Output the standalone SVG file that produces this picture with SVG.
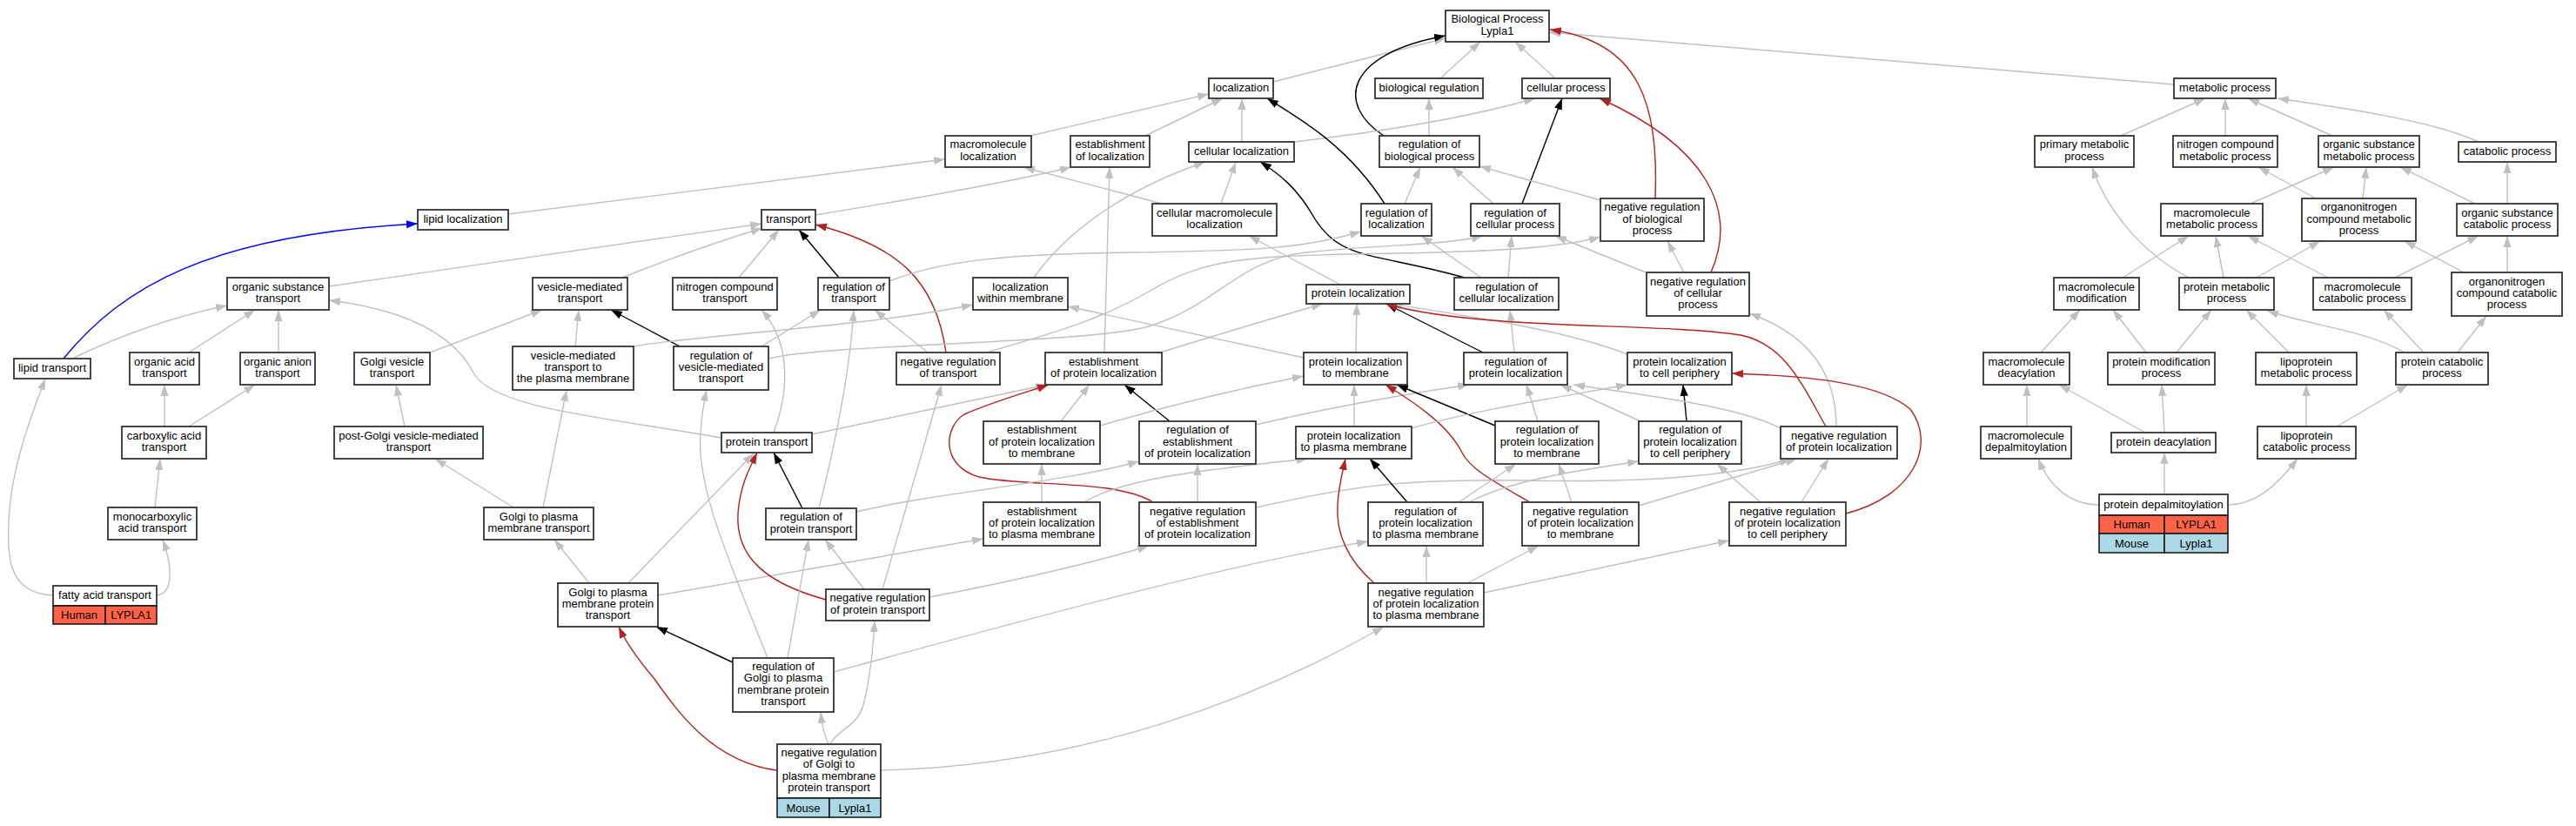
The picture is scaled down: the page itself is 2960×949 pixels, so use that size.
<svg xmlns="http://www.w3.org/2000/svg" width="2960" height="949" viewBox="0 0 2960 949">
<style>
text{font-family:"Liberation Sans",Arial,sans-serif;font-size:13px;text-anchor:middle;fill:#000}
.n rect{fill:#fff;stroke:#333;stroke-width:1.8}
.n rect.hu{fill:#ff6347;stroke:#111;stroke-width:1.5}
.n rect.mo{fill:#add8e6;stroke:#111;stroke-width:1.5}
.e path{fill:none;stroke-width:1.4}
.e .g{stroke:#c0c0c0;marker-end:url(#ag)}
.e .k{stroke:#000;marker-end:url(#ak)}
.e .r{stroke:#b22222;marker-end:url(#ar)}
.e .b{stroke:#0000ff;marker-end:url(#ab)}
</style>
<defs>
<marker id="ag" markerUnits="userSpaceOnUse" markerWidth="14" markerHeight="10" refX="13" refY="4.6" orient="auto"><path d="M0,0 L13,4.6 L0,9.2 z" fill="#c0c0c0"/></marker>
<marker id="ak" markerUnits="userSpaceOnUse" markerWidth="14" markerHeight="10" refX="13" refY="4.6" orient="auto"><path d="M0,0 L13,4.6 L0,9.2 z" fill="#000"/></marker>
<marker id="ar" markerUnits="userSpaceOnUse" markerWidth="14" markerHeight="10" refX="13" refY="4.6" orient="auto"><path d="M0,0 L13,4.6 L0,9.2 z" fill="#b22222"/></marker>
<marker id="ab" markerUnits="userSpaceOnUse" markerWidth="14" markerHeight="10" refX="13" refY="4.6" orient="auto"><path d="M0,0 L13,4.6 L0,9.2 z" fill="#0000ff"/></marker>
</defs>
<rect width="2960" height="949" fill="#fff"/>
<g id="edges" class="e">
<path class="g" d="M1463,94 L1661,44"/>
<path class="g" d="M1655,90 L1701,48"/>
<path class="g" d="M1787,90 L1741,48"/>
<path class="g" d="M2498,97 L1780,37"/>
<path class="k" d="M1590,156 C1535,120 1545,62 1661,41"/>
<path class="r" d="M1902,228 C1906,120 1885,48 1781,34"/>
<path class="r" d="M1966,313 C1998,240 1960,168 1838,113"/>
<path class="k" d="M1749,234 L1795,113"/>
<path class="g" d="M1642,156 L1642,113"/>
<path class="g" d="M1487,163 Q1660,143 1764,113"/>
<path class="k" d="M1591,234 C1550,170 1500,140 1456,113"/>
<path class="g" d="M1614,234 L1632,192"/>
<path class="g" d="M1716,234 L1669,192"/>
<path class="g" d="M1839,230 L1700,191"/>
<path class="g" d="M1702,319 L1633,271"/>
<path class="g" d="M1733,319 L1737,271"/>
<path class="k" d="M1683,319 C1580,290 1540,300 1510,250 C1490,215 1470,200 1448,186"/>
<path class="g" d="M1891,313 L1787,271"/>
<path class="g" d="M1935,313 L1916,277"/>
<path class="g" d="M1184,156 L1389,108"/>
<path class="g" d="M1316,156 L1405,113"/>
<path class="g" d="M1427,163 L1427,113"/>
<path class="g" d="M584,246 L1086,183"/>
<path class="g" d="M937,247 Q1150,212 1231,192"/>
<path class="g" d="M1335,234 L1176,192"/>
<path class="g" d="M1403,234 L1420,186"/>
<path class="g" d="M1188,319 C1230,260 1300,215 1385,186"/>
<path class="g" d="M1269,405 L1275,192"/>
<path class="g" d="M1540,327 L1435,271"/>
<path class="g" d="M378,329 L875,257"/>
<path class="g" d="M715,319 Q800,285 876,262"/>
<path class="g" d="M849,319 L895,264"/>
<path class="k" d="M964,319 L918,264"/>
<path class="r" d="M1087,405 C1075,320 1030,282 937,258"/>
<path class="g" d="M83,412 Q170,370 261,351"/>
<path class="g" d="M217,405 L293,356"/>
<path class="g" d="M320,405 L320,356"/>
<path class="b" d="M73,412 C140,330 240,270 480,257"/>
<path class="g" d="M829,503 C700,480 570,470 545,430 C520,380 460,355 378,345"/>
<path class="g" d="M494,405 L623,356"/>
<path class="g" d="M661,398 L665,356"/>
<path class="k" d="M781,398 L702,356"/>
<path class="g" d="M727,398 C800,385 1000,375 1118,350"/>
<path class="g" d="M875,398 L943,356"/>
<path class="g" d="M883,412 C950,395 1250,395 1320,375 C1400,350 1420,300 1500,290 C1600,280 1660,282 1704,271"/>
<path class="g" d="M1134,405 C1200,385 1260,370 1320,335 C1380,300 1420,295 1550,292 C1700,290 1790,286 1839,272"/>
<path class="g" d="M1022,323 C1080,300 1150,292 1300,290 C1450,288 1500,285 1564,266"/>
<path class="g" d="M1066,405 L1005,356"/>
<path class="g" d="M941,584 Q975,450 981,356"/>
<path class="g" d="M1014,677 L1082,442"/>
<path class="g" d="M889,497 C910,440 905,390 875,356"/>
<path class="g" d="M933,499 L1203,442"/>
<path class="g" d="M1219,484 L1252,442"/>
<path class="k" d="M1344,484 L1292,442"/>
<path class="r" d="M1325,577 C1280,550 1180,560 1125,548 C1080,535 1085,490 1108,476 C1140,462 1175,452 1205,442"/>
<path class="g" d="M1264,489 Q1380,455 1498,432"/>
<path class="g" d="M1333,405 Q1430,375 1520,349"/>
<path class="g" d="M1498,411 L1227,352"/>
<path class="g" d="M1443,488 C1520,470 1600,455 1688,442"/>
<path class="g" d="M1197,577 L1197,533"/>
<path class="g" d="M1246,577 C1290,550 1380,540 1503,527"/>
<path class="g" d="M1376,577 L1376,533"/>
<path class="g" d="M1443,583 C1550,560 1600,550 1750,552 C1900,555 2000,545 2058,527"/>
<path class="g" d="M756,684 L1130,619"/>
<path class="k" d="M922,584 L889,520"/>
<path class="g" d="M984,588 C1080,565 1220,555 1309,530"/>
<path class="r" d="M949,689 C880,670 845,640 848,590 C850,560 860,540 870,520"/>
<path class="g" d="M993,677 L948,620"/>
<path class="g" d="M1068,686 C1180,665 1280,640 1320,627"/>
<path class="g" d="M677,670 L637,620"/>
<path class="g" d="M722,670 L866,521"/>
<path class="g" d="M590,583 L500,527"/>
<path class="g" d="M624,583 L651,448"/>
<path class="g" d="M465,490 L455,442"/>
<path class="g" d="M189,490 L189,442"/>
<path class="g" d="M217,490 L293,442"/>
<path class="g" d="M178,583 L184,527"/>
<path class="g" d="M180,684 C200,682 198,650 187,620"/>
<path class="g" d="M61,684 C10,682 8,640 10,600 C12,540 35,480 52,435"/>
<path class="r" d="M892,885 C820,875 780,820 752,780 C735,760 720,740 711,720"/>
<path class="k" d="M842,761 L754,720"/>
<path class="g" d="M905,756 L929,620"/>
<path class="g" d="M882,756 C840,650 800,560 805,500 C806,480 808,465 812,448"/>
<path class="g" d="M958,772 C1150,720 1400,650 1572,622"/>
<path class="g" d="M952,855 Q945,840 943,818"/>
<path class="g" d="M954,855 C960,840 985,835 992,810 C1000,780 1003,750 1005,713"/>
<path class="g" d="M1012,885 C1250,880 1450,800 1590,720"/>
<path class="g" d="M1558,405 L1559,349"/>
<path class="k" d="M1704,405 L1593,349"/>
<path class="g" d="M1740,405 L1735,356"/>
<path class="g" d="M1870,407 C1800,380 1700,365 1598,349"/>
<path class="r" d="M2098,490 C2070,440 2050,395 2000,385 C1900,370 1700,380 1592,349"/>
<path class="g" d="M2110,490 C2110,430 2080,385 2010,360"/>
<path class="k" d="M1938,484 L1934,442"/>
<path class="r" d="M2121,590 C2200,570 2225,510 2195,470 C2160,440 2080,432 1990,429"/>
<path class="g" d="M1885,484 L1793,442"/>
<path class="g" d="M2046,492 C2000,468 1900,455 1808,442"/>
<path class="g" d="M1767,484 L1754,442"/>
<path class="k" d="M1718,489 L1605,442"/>
<path class="r" d="M1758,577 C1720,555 1690,540 1680,520 C1665,490 1630,465 1592,442"/>
<path class="g" d="M1556,490 L1556,442"/>
<path class="g" d="M1622,492 C1700,470 1800,455 1870,442"/>
<path class="k" d="M1617,577 L1574,527"/>
<path class="g" d="M1676,577 L1742,533"/>
<path class="g" d="M1688,577 C1740,550 1820,540 1883,530"/>
<path class="r" d="M1579,670 C1545,640 1535,610 1537,580 C1538,560 1542,545 1546,527"/>
<path class="g" d="M1639,670 L1639,627"/>
<path class="g" d="M1686,670 L1768,627"/>
<path class="g" d="M1705,681 L1987,621"/>
<path class="g" d="M1806,577 L1791,533"/>
<path class="g" d="M1883,581 L2065,527"/>
<path class="g" d="M2023,577 L1973,533"/>
<path class="g" d="M2070,577 L2101,527"/>
<path class="g" d="M2437,156 L2534,113"/>
<path class="g" d="M2557,156 L2557,113"/>
<path class="g" d="M2680,156 L2583,113"/>
<path class="g" d="M2848,163 C2800,140 2700,125 2617,113"/>
<path class="g" d="M2586,234 L2682,192"/>
<path class="g" d="M2661,228 L2595,192"/>
<path class="g" d="M2715,228 L2719,192"/>
<path class="g" d="M2844,234 L2758,192"/>
<path class="g" d="M2881,234 L2881,186"/>
<path class="g" d="M2439,319 L2515,271"/>
<path class="g" d="M2515,319 C2460,290 2420,240 2404,192"/>
<path class="g" d="M2555,319 L2546,271"/>
<path class="g" d="M2593,319 L2666,277"/>
<path class="g" d="M2675,319 L2583,271"/>
<path class="g" d="M2752,319 L2848,271"/>
<path class="g" d="M2831,313 L2763,277"/>
<path class="g" d="M2881,313 L2881,271"/>
<path class="g" d="M2345,405 L2390,356"/>
<path class="g" d="M2466,405 L2428,356"/>
<path class="g" d="M2501,405 L2541,356"/>
<path class="g" d="M2630,405 L2581,356"/>
<path class="g" d="M2763,405 C2720,380 2660,375 2605,357"/>
<path class="g" d="M2785,405 L2739,356"/>
<path class="g" d="M2824,405 L2857,363"/>
<path class="g" d="M2329,490 L2329,442"/>
<path class="g" d="M2465,497 L2366,442"/>
<path class="g" d="M2487,497 L2484,442"/>
<path class="g" d="M2650,490 L2650,442"/>
<path class="g" d="M2685,490 L2767,442"/>
<path class="g" d="M2412,580 C2380,580 2355,560 2342,527"/>
<path class="g" d="M2487,568 L2487,520"/>
<path class="g" d="M2560,580 C2590,580 2615,560 2640,527"/>
</g>
<g id="n_bp" class="n"><rect x="1661" y="12" width="119" height="36"/><text x="1720.5" y="26.3">Biological Process</text><text x="1720.5" y="39.7">Lypla1</text></g>
<g id="n_loc" class="n"><rect x="1389" y="90" width="74" height="23"/><text x="1426" y="104.5">localization</text></g>
<g id="n_bioreg" class="n"><rect x="1580" y="90" width="124" height="23"/><text x="1642" y="104.5">biological regulation</text></g>
<g id="n_cellproc" class="n"><rect x="1749" y="90" width="101" height="23"/><text x="1799.5" y="104.5">cellular process</text></g>
<g id="n_metab" class="n"><rect x="2498" y="90" width="117" height="23"/><text x="2556.5" y="104.5">metabolic process</text></g>
<g id="n_macloc" class="n"><rect x="1086" y="156" width="99" height="36"/><text x="1135.5" y="170.3">macromolecule</text><text x="1135.5" y="183.7">localization</text></g>
<g id="n_estloc" class="n"><rect x="1230" y="156" width="91" height="36"/><text x="1275.5" y="170.3">establishment</text><text x="1275.5" y="183.7">of localization</text></g>
<g id="n_cellloc" class="n"><rect x="1366" y="163" width="121" height="23"/><text x="1426.5" y="177.5">cellular localization</text></g>
<g id="n_regbp" class="n"><rect x="1585" y="156" width="115" height="36"/><text x="1642.5" y="170.3">regulation of</text><text x="1642.5" y="183.7">biological process</text></g>
<g id="n_primmet" class="n"><rect x="2338" y="156" width="114" height="36"/><text x="2395" y="170.3">primary metabolic</text><text x="2395" y="183.7">process</text></g>
<g id="n_nitmet" class="n"><rect x="2497" y="156" width="120" height="36"/><text x="2557" y="170.3">nitrogen compound</text><text x="2557" y="183.7">metabolic process</text></g>
<g id="n_orgsubmet" class="n"><rect x="2664" y="156" width="116" height="36"/><text x="2722" y="170.3">organic substance</text><text x="2722" y="183.7">metabolic process</text></g>
<g id="n_catab" class="n"><rect x="2825" y="163" width="112" height="23"/><text x="2881" y="177.5">catabolic process</text></g>
<g id="n_lipidloc" class="n"><rect x="480" y="241" width="104" height="23"/><text x="532" y="255.5">lipid localization</text></g>
<g id="n_transport" class="n"><rect x="875" y="241" width="62" height="23"/><text x="906" y="255.5">transport</text></g>
<g id="n_cellmacloc" class="n"><rect x="1324" y="234" width="143" height="37"/><text x="1395.5" y="248.8">cellular macromolecule</text><text x="1395.5" y="262.2">localization</text></g>
<g id="n_regloc" class="n"><rect x="1564" y="234" width="81" height="37"/><text x="1604.5" y="248.8">regulation of</text><text x="1604.5" y="262.2">localization</text></g>
<g id="n_regcp" class="n"><rect x="1690" y="234" width="102" height="37"/><text x="1741" y="248.8">regulation of</text><text x="1741" y="262.2">cellular process</text></g>
<g id="n_negregbp" class="n"><rect x="1839" y="228" width="119" height="49"/><text x="1898.5" y="242.1">negative regulation</text><text x="1898.5" y="255.5">of biological</text><text x="1898.5" y="268.9">process</text></g>
<g id="n_macmet" class="n"><rect x="2483" y="234" width="117" height="37"/><text x="2541.5" y="248.8">macromolecule</text><text x="2541.5" y="262.2">metabolic process</text></g>
<g id="n_orgnitmet" class="n"><rect x="2645" y="228" width="131" height="49"/><text x="2710.5" y="242.1">organonitrogen</text><text x="2710.5" y="255.5">compound metabolic</text><text x="2710.5" y="268.9">process</text></g>
<g id="n_orgsubcat" class="n"><rect x="2823" y="234" width="116" height="37"/><text x="2881" y="248.8">organic substance</text><text x="2881" y="262.2">catabolic process</text></g>
<g id="n_orgsubtr" class="n"><rect x="261" y="319" width="117" height="37"/><text x="319.5" y="333.8">organic substance</text><text x="319.5" y="347.2">transport</text></g>
<g id="n_vesmed" class="n"><rect x="612" y="319" width="109" height="37"/><text x="666.5" y="333.8">vesicle-mediated</text><text x="666.5" y="347.2">transport</text></g>
<g id="n_nittr" class="n"><rect x="773" y="319" width="120" height="37"/><text x="833" y="333.8">nitrogen compound</text><text x="833" y="347.2">transport</text></g>
<g id="n_regtr" class="n"><rect x="940" y="319" width="82" height="37"/><text x="981" y="333.8">regulation of</text><text x="981" y="347.2">transport</text></g>
<g id="n_locwm" class="n"><rect x="1118" y="319" width="109" height="37"/><text x="1172.5" y="333.8">localization</text><text x="1172.5" y="347.2">within membrane</text></g>
<g id="n_protloc" class="n"><rect x="1501" y="327" width="119" height="22"/><text x="1560.5" y="341">protein localization</text></g>
<g id="n_regcellloc" class="n"><rect x="1671" y="319" width="120" height="37"/><text x="1731" y="333.8">regulation of</text><text x="1731" y="347.2">cellular localization</text></g>
<g id="n_negregcp" class="n"><rect x="1892" y="313" width="118" height="50"/><text x="1951" y="327.6">negative regulation</text><text x="1951" y="341">of cellular</text><text x="1951" y="354.4">process</text></g>
<g id="n_macmod" class="n"><rect x="2360" y="319" width="98" height="37"/><text x="2409" y="333.8">macromolecule</text><text x="2409" y="347.2">modification</text></g>
<g id="n_protmet" class="n"><rect x="2504" y="319" width="109" height="37"/><text x="2558.5" y="333.8">protein metabolic</text><text x="2558.5" y="347.2">process</text></g>
<g id="n_maccat" class="n"><rect x="2658" y="319" width="113" height="37"/><text x="2714.5" y="333.8">macromolecule</text><text x="2714.5" y="347.2">catabolic process</text></g>
<g id="n_orgnitcat" class="n"><rect x="2817" y="313" width="127" height="50"/><text x="2880.5" y="327.6">organonitrogen</text><text x="2880.5" y="341">compound catabolic</text><text x="2880.5" y="354.4">process</text></g>
<g id="n_lipidtr" class="n"><rect x="16" y="412" width="88" height="23"/><text x="60" y="426.5">lipid transport</text></g>
<g id="n_orgacid" class="n"><rect x="149" y="405" width="80" height="37"/><text x="189" y="419.8">organic acid</text><text x="189" y="433.2">transport</text></g>
<g id="n_organion" class="n"><rect x="276" y="405" width="86" height="37"/><text x="319" y="419.8">organic anion</text><text x="319" y="433.2">transport</text></g>
<g id="n_golgives" class="n"><rect x="407" y="405" width="87" height="37"/><text x="450.5" y="419.8">Golgi vesicle</text><text x="450.5" y="433.2">transport</text></g>
<g id="n_vestopm" class="n"><rect x="589" y="398" width="139" height="50"/><text x="658.5" y="412.6">vesicle-mediated</text><text x="658.5" y="426">transport to</text><text x="658.5" y="439.4">the plasma membrane</text></g>
<g id="n_regves" class="n"><rect x="774" y="398" width="109" height="50"/><text x="828.5" y="412.6">regulation of</text><text x="828.5" y="426">vesicle-mediated</text><text x="828.5" y="439.4">transport</text></g>
<g id="n_negregtr" class="n"><rect x="1030" y="405" width="119" height="37"/><text x="1089.5" y="419.8">negative regulation</text><text x="1089.5" y="433.2">of transport</text></g>
<g id="n_estpl" class="n"><rect x="1201" y="405" width="134" height="37"/><text x="1268" y="419.8">establishment</text><text x="1268" y="433.2">of protein localization</text></g>
<g id="n_pltomem" class="n"><rect x="1498" y="405" width="119" height="37"/><text x="1557.5" y="419.8">protein localization</text><text x="1557.5" y="433.2">to membrane</text></g>
<g id="n_regpl" class="n"><rect x="1682" y="405" width="119" height="37"/><text x="1741.5" y="419.8">regulation of</text><text x="1741.5" y="433.2">protein localization</text></g>
<g id="n_pltocp" class="n"><rect x="1870" y="405" width="120" height="37"/><text x="1930" y="419.8">protein localization</text><text x="1930" y="433.2">to cell periphery</text></g>
<g id="n_macdeacyl" class="n"><rect x="2279" y="405" width="99" height="37"/><text x="2328.5" y="419.8">macromolecule</text><text x="2328.5" y="433.2">deacylation</text></g>
<g id="n_protmod" class="n"><rect x="2422" y="405" width="123" height="37"/><text x="2483.5" y="419.8">protein modification</text><text x="2483.5" y="433.2">process</text></g>
<g id="n_lipomet" class="n"><rect x="2592" y="405" width="116" height="37"/><text x="2650" y="419.8">lipoprotein</text><text x="2650" y="433.2">metabolic process</text></g>
<g id="n_protcat" class="n"><rect x="2753" y="405" width="106" height="37"/><text x="2806" y="419.8">protein catabolic</text><text x="2806" y="433.2">process</text></g>
<g id="n_carbox" class="n"><rect x="140" y="490" width="97" height="37"/><text x="188.5" y="504.8">carboxylic acid</text><text x="188.5" y="518.2">transport</text></g>
<g id="n_postgolgi" class="n"><rect x="384" y="490" width="171" height="37"/><text x="469.5" y="504.8">post-Golgi vesicle-mediated</text><text x="469.5" y="518.2">transport</text></g>
<g id="n_prottr" class="n"><rect x="829" y="497" width="104" height="23"/><text x="881" y="511.5">protein transport</text></g>
<g id="n_estpltomem" class="n"><rect x="1130" y="484" width="134" height="49"/><text x="1197" y="498.1">establishment</text><text x="1197" y="511.5">of protein localization</text><text x="1197" y="524.9">to membrane</text></g>
<g id="n_regestpl" class="n"><rect x="1309" y="484" width="134" height="49"/><text x="1376" y="498.1">regulation of</text><text x="1376" y="511.5">establishment</text><text x="1376" y="524.9">of protein localization</text></g>
<g id="n_pltopm" class="n"><rect x="1489" y="490" width="133" height="37"/><text x="1555.5" y="504.8">protein localization</text><text x="1555.5" y="518.2">to plasma membrane</text></g>
<g id="n_regpltomem" class="n"><rect x="1718" y="484" width="119" height="49"/><text x="1777.5" y="498.1">regulation of</text><text x="1777.5" y="511.5">protein localization</text><text x="1777.5" y="524.9">to membrane</text></g>
<g id="n_regpltocp" class="n"><rect x="1883" y="484" width="118" height="49"/><text x="1942" y="498.1">regulation of</text><text x="1942" y="511.5">protein localization</text><text x="1942" y="524.9">to cell periphery</text></g>
<g id="n_negregpl" class="n"><rect x="2046" y="490" width="134" height="37"/><text x="2113" y="504.8">negative regulation</text><text x="2113" y="518.2">of protein localization</text></g>
<g id="n_macdepalm" class="n"><rect x="2276" y="490" width="104" height="37"/><text x="2328" y="504.8">macromolecule</text><text x="2328" y="518.2">depalmitoylation</text></g>
<g id="n_protdeacyl" class="n"><rect x="2426" y="497" width="120" height="23"/><text x="2486" y="511.5">protein deacylation</text></g>
<g id="n_lipocat" class="n"><rect x="2594" y="490" width="113" height="37"/><text x="2650.5" y="504.8">lipoprotein</text><text x="2650.5" y="518.2">catabolic process</text></g>
<g id="n_monocarb" class="n"><rect x="124" y="583" width="102" height="37"/><text x="175" y="597.8">monocarboxylic</text><text x="175" y="611.2">acid transport</text></g>
<g id="n_golgitopm" class="n"><rect x="556" y="583" width="126" height="37"/><text x="619" y="597.8">Golgi to plasma</text><text x="619" y="611.2">membrane transport</text></g>
<g id="n_regprottr" class="n"><rect x="880" y="584" width="104" height="36"/><text x="932" y="598.3">regulation of</text><text x="932" y="611.7">protein transport</text></g>
<g id="n_estpltopm" class="n"><rect x="1130" y="577" width="134" height="50"/><text x="1197" y="591.6">establishment</text><text x="1197" y="605">of protein localization</text><text x="1197" y="618.4">to plasma membrane</text></g>
<g id="n_negregestpl" class="n"><rect x="1309" y="577" width="134" height="50"/><text x="1376" y="591.6">negative regulation</text><text x="1376" y="605">of establishment</text><text x="1376" y="618.4">of protein localization</text></g>
<g id="n_regpltopm" class="n"><rect x="1572" y="577" width="132" height="50"/><text x="1638" y="591.6">regulation of</text><text x="1638" y="605">protein localization</text><text x="1638" y="618.4">to plasma membrane</text></g>
<g id="n_negregpltomem" class="n"><rect x="1749" y="577" width="134" height="50"/><text x="1816" y="591.6">negative regulation</text><text x="1816" y="605">of protein localization</text><text x="1816" y="618.4">to membrane</text></g>
<g id="n_negregpltocp" class="n"><rect x="1987" y="577" width="134" height="50"/><text x="2054" y="591.6">negative regulation</text><text x="2054" y="605">of protein localization</text><text x="2054" y="618.4">to cell periphery</text></g>
<g id="n_protdepalm" class="n"><rect x="2412" y="568" width="148" height="24"/><text x="2486" y="583.5">protein depalmitoylation</text><rect class="hu" x="2412" y="592" width="75" height="21"/><rect class="hu" x="2487" y="592" width="73" height="21"/><text x="2449.5" y="607">Human</text><text x="2523.5" y="607">LYPLA1</text><rect class="mo" x="2412" y="613" width="75" height="22"/><rect class="mo" x="2487" y="613" width="73" height="22"/><text x="2449.5" y="628.5">Mouse</text><text x="2523.5" y="628.5">Lypla1</text></g>
<g id="n_fatty" class="n"><rect x="61" y="673" width="119" height="23"/><text x="120.5" y="688">fatty acid transport</text><rect class="hu" x="61" y="696" width="60" height="21"/><rect class="hu" x="121" y="696" width="59" height="21"/><text x="91" y="711">Human</text><text x="150.5" y="711">LYPLA1</text></g>
<g id="n_golgitopmprot" class="n"><rect x="641" y="670" width="115" height="50"/><text x="698.5" y="684.6">Golgi to plasma</text><text x="698.5" y="698">membrane protein</text><text x="698.5" y="711.4">transport</text></g>
<g id="n_negregprottr" class="n"><rect x="949" y="677" width="119" height="36"/><text x="1008.5" y="691.3">negative regulation</text><text x="1008.5" y="704.7">of protein transport</text></g>
<g id="n_negregpltopm" class="n"><rect x="1572" y="670" width="133" height="50"/><text x="1638.5" y="684.6">negative regulation</text><text x="1638.5" y="698">of protein localization</text><text x="1638.5" y="711.4">to plasma membrane</text></g>
<g id="n_reggolgi" class="n"><rect x="842" y="756" width="116" height="62"/><text x="900" y="769.9">regulation of</text><text x="900" y="783.3">Golgi to plasma</text><text x="900" y="796.7">membrane protein</text><text x="900" y="810.1">transport</text></g>
<g id="n_negreggolgi" class="n"><rect x="893" y="855" width="119" height="62"/><text x="952.5" y="868.9">negative regulation</text><text x="952.5" y="882.3">of Golgi to</text><text x="952.5" y="895.7">plasma membrane</text><text x="952.5" y="909.1">protein transport</text><rect class="mo" x="893" y="917" width="60" height="22"/><rect class="mo" x="953" y="917" width="59" height="22"/><text x="923" y="932.5">Mouse</text><text x="982.5" y="932.5">Lypla1</text></g>
</svg>
